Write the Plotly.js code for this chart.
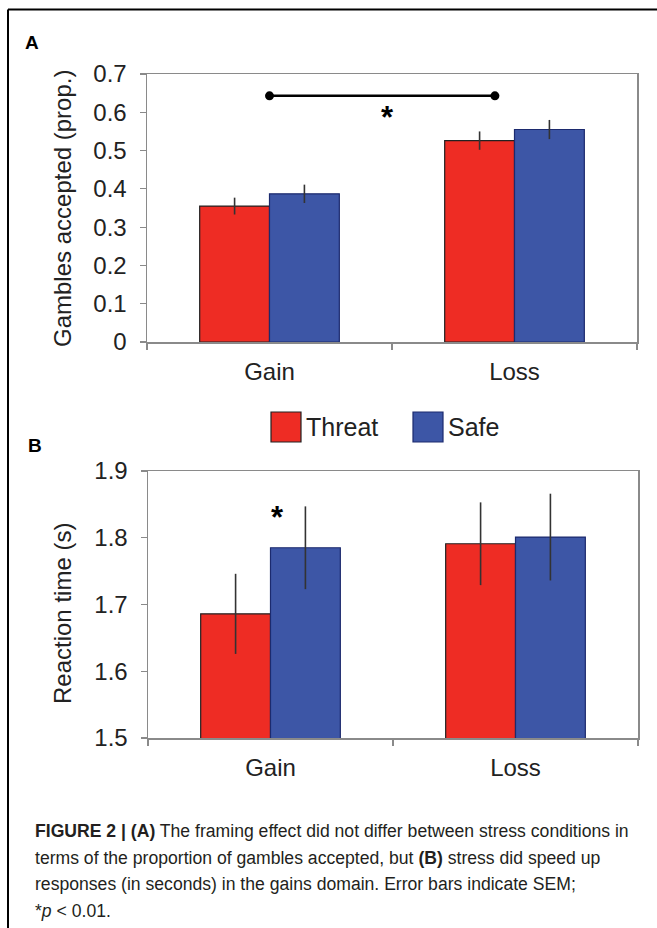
<!DOCTYPE html>
<html>
<head>
<meta charset="utf-8">
<script src="https://cdn.plot.ly/plotly-3.0.1.min.js"></script>
<style>html,body{margin:0;padding:0;background:#fff;}#chart{width:657px;height:928px;}</style>
</head>
<body>
<div id="chart"></div>
<script>
// ---- data ----
const categories = ['Gain', 'Loss'];
const seriesNames = ['Threat', 'Safe'];
const acceptedThreat = [0.355, 0.526];
const acceptedThreatErr = [0.022, 0.024];
const acceptedSafe = [0.387, 0.555];
const acceptedSafeErr = [0.024, 0.025];
const rtThreat = [1.686, 1.791];
const rtThreatErr = [0.060, 0.062];
const rtSafe = [1.785, 1.801];
const rtSafeErr = [0.062, 0.065];
const sigBracketX = [0, 0.92];
const sigBracketY = [0.643, 0.643];
const starAX = 0.48, starAY = 0.586;
const starBX = 0.03, starBY = 1.831;
const yTicksA = [0, 0.1, 0.2, 0.3, 0.4, 0.5, 0.6, 0.7];
const yTicksB = [1.5, 1.6, 1.7, 1.8, 1.9];

// ---- styling ----
const W = 657, H = 928;
const px = x => x / W;
const py = y => 1 - y / H;
const RED = '#EE2C24', BLUE = '#3D56A6';
const FONT = 'Liberation Sans, Arial, Helvetica, sans-serif';
const axisGrey = '#8a8a8a';

function barTrace(y, err, name, color, lineColor, xa, ya) {
  return {
    type: 'bar', x: categories, y: y, name: name,
    xaxis: xa, yaxis: ya,
    marker: {color: color, line: {color: lineColor, width: 1.2}},
    error_y: {type: 'data', array: err, visible: true, color: '#333', thickness: 1.6, width: 0},
    showlegend: false, hoverinfo: 'skip'
  };
}

const data = [
  barTrace(acceptedThreat, acceptedThreatErr, seriesNames[0], RED, '#222', 'x', 'y'),
  barTrace(acceptedSafe, acceptedSafeErr, seriesNames[1], BLUE, '#1c2a6e', 'x', 'y'),
  barTrace(rtThreat, rtThreatErr, seriesNames[0], RED, '#222', 'x2', 'y2'),
  barTrace(rtSafe, rtSafeErr, seriesNames[1], BLUE, '#1c2a6e', 'x2', 'y2'),
  {type: 'scatter', x: sigBracketX, y: sigBracketY, xaxis: 'x3', yaxis: 'y',
   mode: 'lines+markers', line: {color: '#000', width: 2.5},
   marker: {color: '#000', size: 9}, showlegend: false, hoverinfo: 'skip'}
];

function xAxis(domain, anchor) {
  return {
    domain: domain, anchor: anchor, type: 'category', range: [-0.5, 1.5],
    tickson: 'boundaries', ticks: 'outside', ticklen: 6, tickwidth: 1.2, tickcolor: axisGrey,
    showline: true, linecolor: axisGrey, linewidth: 1.5, mirror: true,
    showgrid: false, zeroline: false, fixedrange: true,
    tickfont: {family: FONT, size: 24, color: '#222'}, ticklabelstandoff: 8
  };
}
function yAxis(domain, anchor, range, vals) {
  return {
    domain: domain, anchor: anchor, range: range, tickvals: vals,
    ticks: 'outside', ticklen: 6, tickwidth: 1.2, tickcolor: axisGrey,
    showline: true, linecolor: axisGrey, linewidth: 1.5, mirror: true,
    showgrid: false, zeroline: false, fixedrange: true,
    tickfont: {family: FONT, size: 24, color: '#222'}, ticklabelstandoff: 8
  };
}
function overlayX(base, anchor) {
  return {overlaying: base, anchor: anchor, range: [-0.5, 1.5], visible: false, fixedrange: true};
}

const captionFont = {family: 'Liberation Sans Narrow, Liberation Sans, Arial, sans-serif', size: 17.6, color: '#231f20'};
const captionLines = [
  '<b>FIGURE 2 | (A)</b> The framing effect did not differ between stress conditions in',
  'terms of the proportion of gambles accepted, but <b>(B)</b> stress did speed up',
  'responses (in seconds) in the gains domain. Error bars indicate SEM;',
  '*<i>p</i> &lt; 0.01.'
];
const captionY = [831, 858, 884, 911];

const annotations = [
  {text: '<b>A</b>', xref: 'paper', yref: 'paper', x: px(32), y: py(43), xanchor: 'center', yanchor: 'middle', showarrow: false,
   font: {family: FONT, size: 19, color: '#000'}},
  {text: '<b>B</b>', xref: 'paper', yref: 'paper', x: px(35), y: py(445), xanchor: 'center', yanchor: 'middle', showarrow: false,
   font: {family: FONT, size: 19, color: '#000'}},
  {text: 'Gambles accepted (prop.)', xref: 'paper', yref: 'paper', x: px(62), y: py(209),
   xanchor: 'center', yanchor: 'middle',
   textangle: -90, showarrow: false, font: {family: FONT, size: 24, color: '#222'}},
  {text: 'Reaction time (s)', xref: 'paper', yref: 'paper', x: px(62), y: py(614),
   xanchor: 'center', yanchor: 'middle',
   textangle: -90, showarrow: false, font: {family: FONT, size: 24, color: '#222'}},
  {text: '<b>*</b>', xref: 'x3', yref: 'y', x: starAX, y: starAY, xanchor: 'center', yanchor: 'middle', showarrow: false,
   font: {family: FONT, size: 31, color: '#000'}},
  {text: '<b>*</b>', xref: 'x4', yref: 'y2', x: starBX, y: starBY, xanchor: 'center', yanchor: 'middle', showarrow: false,
   font: {family: FONT, size: 31, color: '#000'}},
  {text: seriesNames[0], xref: 'paper', yref: 'paper', x: px(304), y: py(427), xanchor: 'left', yanchor: 'middle',
   showarrow: false, font: {family: FONT, size: 25, color: '#222'}},
  {text: seriesNames[1], xref: 'paper', yref: 'paper', x: px(446), y: py(427), xanchor: 'left', yanchor: 'middle',
   showarrow: false, font: {family: FONT, size: 25, color: '#222'}}
];
captionLines.forEach((t, i) => annotations.push({
  text: t, xref: 'paper', yref: 'paper', x: px(33), y: py(captionY[i]), xanchor: 'left', yanchor: 'middle',
  showarrow: false, font: captionFont
}));

const shapes = [
  {type: 'line', xref: 'paper', yref: 'paper', x0: px(8), x1: px(657), y0: py(9.5), y1: py(9.5), line: {color: '#000', width: 2}},
  {type: 'line', xref: 'paper', yref: 'paper', x0: px(8), x1: px(8), y0: py(9.5), y1: py(928), line: {color: '#000', width: 2}},
  {type: 'rect', xref: 'paper', yref: 'paper', x0: px(271), x1: px(301), y0: py(442), y1: py(412), fillcolor: RED, line: {color: '#222', width: 1.2}},
  {type: 'rect', xref: 'paper', yref: 'paper', x0: px(413), x1: px(443), y0: py(442), y1: py(412), fillcolor: BLUE, line: {color: '#1c2a6e', width: 1.2}}
];

const layout = {
  width: W, height: H, margin: {l: 0, r: 0, t: 0, b: 0},
  paper_bgcolor: '#fff', plot_bgcolor: '#fff',
  barmode: 'group', bargap: 0.43, bargroupgap: 0,
  showlegend: false,
  xaxis: xAxis([px(147), px(637)], 'y'),
  yaxis: yAxis([py(342), py(74)], 'x', [0, 0.7], yTicksA),
  xaxis2: xAxis([px(148), px(638)], 'y2'),
  yaxis2: yAxis([py(738), py(471)], 'x2', [1.5, 1.9], yTicksB),
  xaxis3: overlayX('x', 'y'),
  xaxis4: overlayX('x2', 'y2'),
  annotations: annotations,
  shapes: shapes
};

Plotly.newPlot('chart', data, layout, {staticPlot: true, displayModeBar: false});
</script>
</body>
</html>
